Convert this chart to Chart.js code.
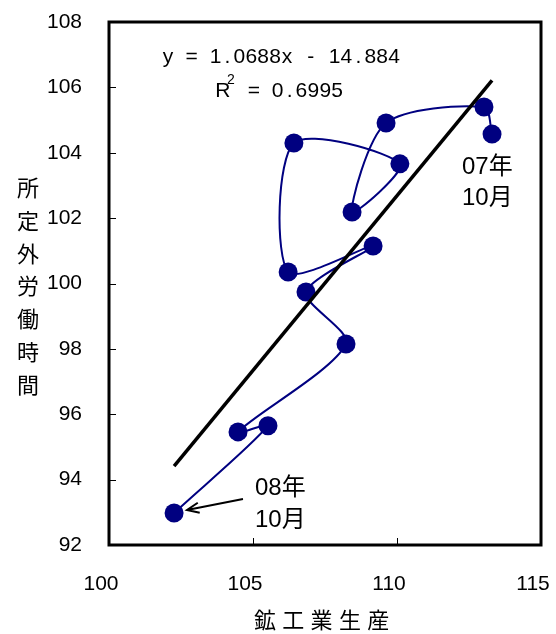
<!DOCTYPE html>
<html><head><meta charset="utf-8">
<script src="https://cdn.jsdelivr.net/npm/chart.js@4"></script>
<style>html,body{margin:0;padding:0;background:#fff}</style>
</head><body>
<canvas id="c" width="556" height="634" style="display:block;width:556px;height:634px"></canvas>
<script>
// Data (07年10月 → 08年10月)
const months = ['07年10月','07年11月','07年12月','08年1月','08年2月','08年3月','08年4月','08年5月','08年6月','08年7月','08年8月','08年9月','08年10月'];
const mining = [113.30,113.02,109.62,108.44,110.10,106.42,106.22,109.17,106.84,108.23,104.48,105.52,102.26];
const overtime = [104.57,105.40,104.91,102.19,103.66,104.30,100.35,101.15,99.74,98.15,95.46,95.65,92.98];
const xTicks = [100,105,110,115];
const yTicks = [92,94,96,98,100,102,104,106,108];
const slope = 1.0688, intercept = -14.884, r2 = 0.6995;
const xTitle = '鉱工業生産';
const yTitle = '所定外労働時間';

const pts = mining.map((x,i)=>({x:x, y:overtime[i]}));
const xMin = Math.min(...mining), xMax = Math.max(...mining);
const trend = [{x:xMin, y:slope*xMin+intercept},{x:xMax, y:slope*xMax+intercept}];

const NAVY = '#000080';
const tickFont = {family:"'Liberation Sans', Arial, sans-serif", size:21};

function monoText(ctx, text, x, y, cell){
  for(let i=0;i<text.length;i++){
    ctx.fillText(text[i], x + i*cell + cell/2, y);
  }
}

const deco = {
  id:'deco',
  afterDraw(chart){
    const ctx = chart.ctx, a = chart.chartArea;
    const xs = chart.scales.x, ys = chart.scales.y;
    ctx.save();
    // inner tick marks
    ctx.strokeStyle = '#000'; ctx.lineWidth = 1;
    ctx.beginPath();
    yTicks.forEach(v=>{ const p = Math.round(ys.getPixelForValue(v))+0.5; ctx.moveTo(a.left, p); ctx.lineTo(a.left+7, p); });
    xTicks.forEach(v=>{ const p = Math.round(xs.getPixelForValue(v))+0.5; ctx.moveTo(p, a.bottom); ctx.lineTo(p, a.bottom-7); });
    ctx.stroke();
    // frame
    ctx.lineWidth = 3;
    ctx.strokeRect(a.left, a.top, a.right-a.left, a.bottom-a.top);
    // equation
    ctx.fillStyle = '#000';
    ctx.textAlign = 'center'; ctx.textBaseline = 'middle';
    ctx.font = "21px 'Liberation Sans', Arial, sans-serif";
    monoText(ctx, 'y = ' + slope.toFixed(4) + 'x - ' + Math.abs(intercept).toFixed(3), 162, 57, 11.9);
    monoText(ctx, 'R', 217, 91, 11.9);
    ctx.font = "14px 'Liberation Sans', Arial, sans-serif";
    ctx.fillText('2', 231, 80);
    ctx.font = "21px 'Liberation Sans', Arial, sans-serif";
    monoText(ctx, ' = ' + r2.toFixed(4), 236, 91, 11.9);
    // point labels
    ctx.textAlign = 'left';
    ctx.font = "24px 'Liberation Sans', 'Noto Sans CJK JP', sans-serif";
    ctx.fillText('07年', 462, 167);
    ctx.fillText('10月', 462, 198);
    ctx.fillText('08年', 255, 488);
    ctx.fillText('10月', 255, 520);
    // arrow
    ctx.lineWidth = 2;
    const x0 = 243, y0 = 499, x1 = 187, y1 = 510;
    const ang = Math.atan2(y1-y0, x1-x0);
    ctx.beginPath();
    ctx.moveTo(x0,y0); ctx.lineTo(x1,y1);
    ctx.moveTo(x1 - 13*Math.cos(ang-0.4), y1 - 13*Math.sin(ang-0.4));
    ctx.lineTo(x1,y1);
    ctx.lineTo(x1 - 13*Math.cos(ang+0.4), y1 - 13*Math.sin(ang+0.4));
    ctx.stroke();
    // axis titles
    ctx.textAlign = 'center';
    ctx.font = "22px 'Noto Sans CJK JP', sans-serif";
    for(let i=0;i<yTitle.length;i++) ctx.fillText(yTitle[i], 28, 188 + i*32.7);
    for(let i=0;i<xTitle.length;i++) ctx.fillText(xTitle[i], 265 + i*28.3, 620);
    ctx.restore();
  }
};

new Chart(document.getElementById('c'), {
  type:'scatter',
  data:{
    datasets:[
      {label:'trend', data:trend, showLine:true, borderColor:'#000', borderWidth:3.5, pointRadius:0, pointHoverRadius:0, tension:0},
      {label:'series', data:pts, showLine:true, borderColor:NAVY, borderWidth:2, backgroundColor:NAVY,
       pointBackgroundColor:NAVY, pointBorderColor:NAVY, pointRadius:9.5, pointBorderWidth:0, tension:0.28}
    ]
  },
  options:{
    responsive:false, animation:false, devicePixelRatio:1,
    layout:{padding:{top:22, right:15, left:0, bottom:0}},
    plugins:{legend:{display:false}, tooltip:{enabled:false}},
    scales:{
      x:{type:'linear', min:100, max:115,
        afterBuildTicks:s=>{ s.ticks = xTicks.map(v=>({value:v})); },
        grid:{display:false, drawTicks:false}, border:{display:false},
        ticks:{font:tickFont, color:'#000', padding:27, labelOffset:-8, maxRotation:0},
        afterFit:s=>{ s.height = 89; s.paddingLeft = 0; s.paddingRight = 0; }
      },
      y:{type:'linear', min:92, max:108,
        afterBuildTicks:s=>{ s.ticks = yTicks.map(v=>({value:v})); },
        grid:{display:false, drawTicks:false}, border:{display:false},
        ticks:{font:tickFont, color:'#000', padding:27},
        afterFit:s=>{ s.width = 109; s.paddingTop = 0; s.paddingBottom = 0; }
      }
    }
  },
  plugins:[deco]
});
</script>
</body></html>
